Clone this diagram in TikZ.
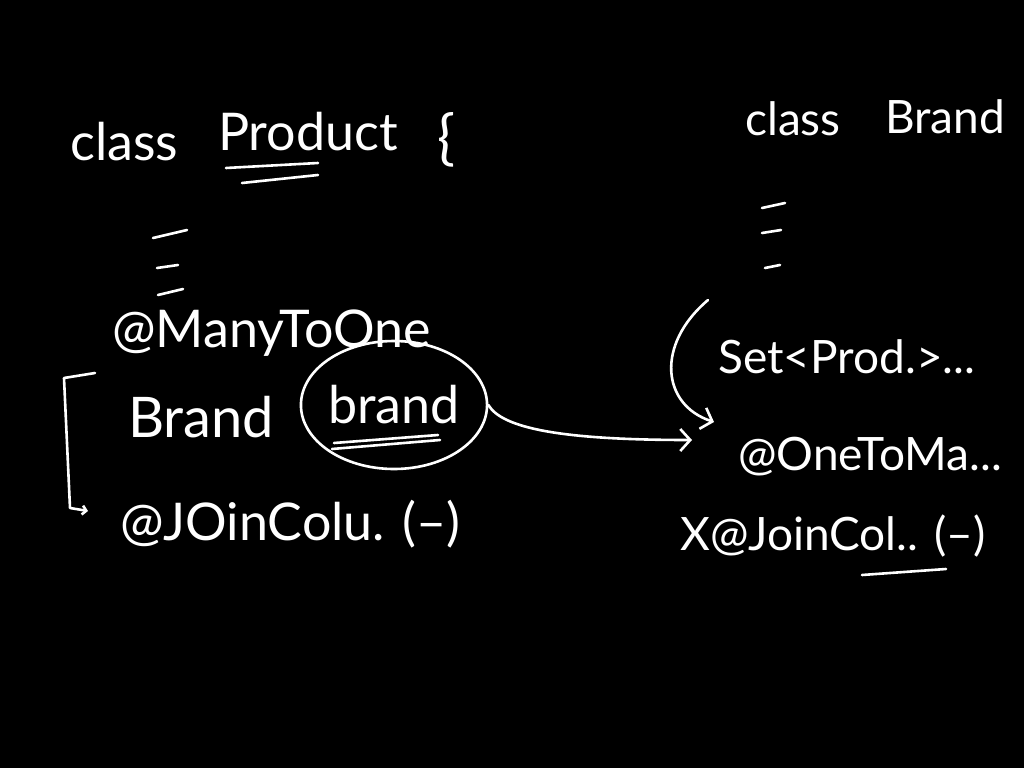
\documentclass[tikz,border=0pt]{standalone}
\usepackage{fontspec}
\setmainfont{Lato}
\usetikzlibrary{arrows.meta,positioning,shapes.geometric,calc}
\definecolor{board}{HTML}{000000}
\definecolor{chalk}{HTML}{FFFFFF}

\begin{document}
\begin{tikzpicture}[x=1pt,y=-1pt,>={Straight Barb[length=10pt,width=22pt]},
  ink/.style={text=chalk,anchor=base west,inner sep=0pt,font=\fontsize{52}{60}\selectfont},
  inks/.style={ink,font=\fontsize{46}{54}\selectfont},
  pen/.style={draw=chalk,line width=2.6pt,line cap=round,line join=round}]
  \fill[board] (0,0) rectangle (1024,768);
  \clip (0,0) rectangle (1024,768);
  % class Product
  \node[ink] (cls) at (70,160) {class};
  \node[ink] (prod) at (218,150) {Product};
  \node[ink,font=\fontsize{60}{66}\selectfont] (brace) at (437,158) {\{};
  \draw[pen] ($(prod.base west)+(8,18)$) -- ($(prod.base west)+(100,13)$);
  \draw[pen] ($(prod.base west)+(24,33)$) -- ($(prod.base west)+(100,25)$);
  \node[ink] (many) at (112,347) {@ManyToOne};
  \node[ink,font=\fontsize{56}{62}\selectfont] (typ) at (128,437) {Brand};
  \node[draw=chalk,line width=2.6pt,ellipse,text=chalk,inner sep=0pt,
        minimum width=168pt,minimum height=128pt,
        font=\fontsize{52}{60}\selectfont] (fld) at (394,405) {brand};
  \draw[pen] (332,449) -- (440,440);
  \draw[pen] (334,443) -- (438,435);
  \node[ink] (jcol) at (120,540) {@JOinColu. (–)};
  \draw[pen,-{Straight Barb[length=4pt,width=9pt]}] (95,373) -- (64,378) -- (70,508) -- (88,511);
  % class Brand
  \node[inks] (bcls) at (745,135) {class};
  \node[inks] (bname) at (885,133) {Brand};
  \node[inks] (setp) at (718,373) {Set<Prod.>...};
  \node[inks] (otm) at (738,470) {@OneToMa...};
  \node[inks] (bjcol) at (680,550) {X@JoinCol.. (–)};
  \draw[pen] (862,575) -- (946,569);
  % placeholder lines
  \foreach \ax/\ay/\bx/\by in {153/238/187/230, 157/268/178/265, 158/295/183/289,
                               762/208/785/203, 762/233/781/230, 765/268/780/265}
    \draw[pen] (\ax,\ay) -- (\bx,\by);
  % arrows
  \coordinate (hit) at (692,440);
  \coordinate (top) at (708,300);
  \coordinate (tip) at (714,422);
  \draw[pen,->] (fld.east) .. controls (502,428) and (560,440) .. (hit);
  \draw[pen,->] (top) .. controls (655,345) and (662,405) .. (tip);
\end{tikzpicture}
\end{document}
